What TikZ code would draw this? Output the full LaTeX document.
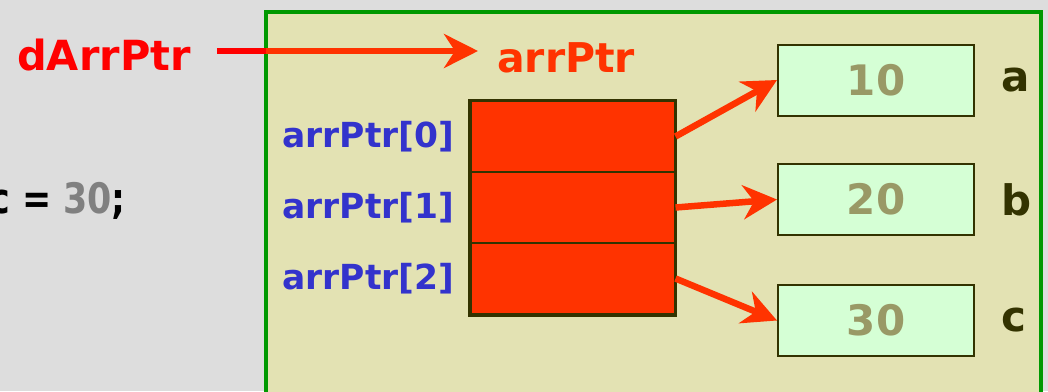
\documentclass[tikz,border=0pt]{standalone}
\usepackage{fontspec}
\setmainfont{DejaVu Sans}
\usepackage{graphicx}
\usepackage{xcolor}
\usetikzlibrary{
    arrows.meta,
    positioning
}

\definecolor{slidegray}{HTML}{DDDDDD}
\definecolor{framegreen}{HTML}{009900}
\definecolor{panelkhaki}{HTML}{E3E2B3}
\definecolor{ptrred}{HTML}{FF3300}
\definecolor{idxblue}{HTML}{3333CC}
\definecolor{cellgreen}{HTML}{D5FFD5}
\definecolor{darkolive}{HTML}{333300}
\definecolor{valgray}{HTML}{999966}

\tikzset{
    cell/.style={draw=darkolive,line width=2pt,fill=ptrred,minimum width=204pt,minimum height=71pt,inner sep=0pt},
    idx/.style={text=idxblue,font=\fontsize{34.5}{40}\selectfont\bfseries,inner sep=0pt},
    valbox/.style={draw=darkolive,line width=2pt,fill=cellgreen,minimum width=196pt,minimum height=71pt,
        text=valgray,font=\fontsize{42}{48}\selectfont\bfseries},
    varname/.style={text=darkolive,font=\fontsize{42}{48}\selectfont\bfseries,inner sep=0pt},
    ptr/.style={ptrred,line width=6.5pt,-{Stealth[length=34pt,width=34pt,inset=11pt]}}
}

\begin{document}
\begin{tikzpicture}[x=1pt,y=-1pt]
    % slide background, clipped to the page
    \fill[slidegray] (0,0) rectangle (1048,391);
    \clip (0,0) rectangle (1048,391);
    \draw[framegreen,line width=4.5pt,fill=panelkhaki] (266,12) rectangle (1041,396);

    % code line on the left
    \node[anchor=base east,inner sep=0pt,font=\fontsize{42}{48}\selectfont\bfseries] (code) at (126,213)
        {\scalebox{0.83}[1]{c = \textcolor{gray}{30};}};

    % the pointer variable and the array it holds
    \node[anchor=base,inner sep=0pt,text=red,font=\fontsize{41.5}{48}\selectfont\bfseries] (dptr) at (104,70) {dArrPtr};
    \node[anchor=base west,inner sep=0pt,text=ptrred,font=\fontsize{41}{48}\selectfont\bfseries] (arrptr) at (497,72) {arrPtr};
    \coordinate (edge) at (266,51);
    \draw[red,line width=6.5pt,shorten <=26pt] (dptr.east |- edge) -- (edge);
    \draw[ptr,shorten >=19pt] (edge) -- (arrptr.west |- edge);

    \foreach \i in {0,1,2} {
        \node[cell] (cell\i) at (572.5,{136.5+71*\i}) {};
        \node[idx,left=15pt of cell\i] {arrPtr[\i]};
    }
    \draw[darkolive,line width=3pt] (cell0.north west) rectangle (cell2.south east);

    % pointed-to values
    \node[valbox] (a) at (876,80) {10};
    \node[valbox] (b) at (876,199.5) {20};
    \node[valbox] (c) at (876,320.5) {30};
    \foreach \v in {a,b,c}
        \node[varname,right=26pt of \v] {\v};

    \draw[ptr] (cell0.east) -- (a.west);
    \draw[ptr] (cell1.east) -- (b.west);
    \draw[ptr] (cell2.east) -- (c.west);
\end{tikzpicture}
\end{document}
